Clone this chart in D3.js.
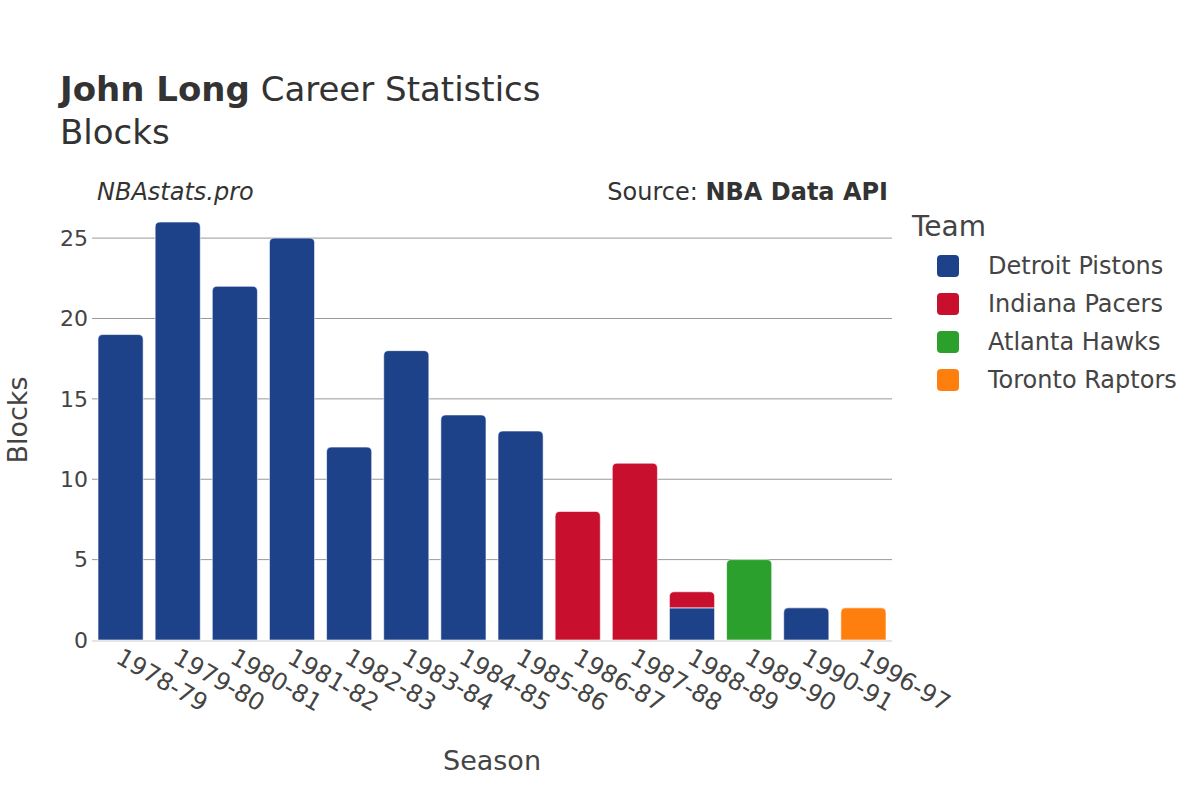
<!DOCTYPE html>
<html>
<head>
<meta charset="utf-8">
<script src="https://cdnjs.cloudflare.com/ajax/libs/d3/7.8.5/d3.min.js"></script>
<style>
  body { margin: 0; background: #fff; }
  svg { font-family: "DejaVu Sans", sans-serif; }
</style>
</head>
<body>
<div id="chart"></div>
<script>
// ----- data -----
var seasons = ["1978-79","1979-80","1980-81","1981-82","1982-83","1983-84","1984-85",
               "1985-86","1986-87","1987-88","1988-89","1989-90","1990-91","1996-97"];
var teams = ["Detroit Pistons","Indiana Pacers","Atlanta Hawks","Toronto Raptors"];
var teamColors = ["#1d428a","#c8102e","#2ca02c","#ff7f0e"];
// blocks per season, one array per team
var detroit  = [19,26,22,25,12,18,14,13,0,0,2,0,2,0];
var indiana  = [0,0,0,0,0,0,0,0,8,11,1,0,0,0];
var atlanta  = [0,0,0,0,0,0,0,0,0,0,0,5,0,0];
var toronto  = [0,0,0,0,0,0,0,0,0,0,0,0,0,2];
var yTicks = [0,5,10,15,20,25];

var W = 1200, H = 800;
var plotLeft = 92, plotRight = 892, plotTop = 200, plotBottom = 640;

var svg = d3.select("#chart").append("svg").attr("width", W).attr("height", H);

var x = d3.scaleBand().domain(seasons).range([plotLeft, plotRight]).paddingInner(0.21).paddingOuter(0.105);
var y = d3.scaleLinear().domain([0, 27.37]).range([plotBottom, plotTop]);
var color = d3.scaleOrdinal().domain(teams).range(teamColors);

// grid
svg.append("g").selectAll("line").data(yTicks.filter(function(d){return d>0;})).join("line")
  .attr("x1", plotLeft).attr("x2", plotRight)
  .attr("y1", function(d){return y(d);}).attr("y2", function(d){return y(d);})
  .attr("stroke", "#999").attr("stroke-width", 1);

// stack
var rows = seasons.map(function(s, i){
  return {season: s, "Detroit Pistons": detroit[i], "Indiana Pacers": indiana[i],
          "Atlanta Hawks": atlanta[i], "Toronto Raptors": toronto[i]};
});
var series = d3.stack().keys(teams)(rows);

function barPath(x0, w, y0, y1, r) {
  r = Math.min(r, (y0 - y1), w / 2);
  return "M" + x0 + "," + y0 +
    "V" + (y1 + r) + "Q" + x0 + "," + y1 + " " + (x0 + r) + "," + y1 +
    "H" + (x0 + w - r) + "Q" + (x0 + w) + "," + y1 + " " + (x0 + w) + "," + (y1 + r) +
    "V" + y0 + "Z";
}

series.forEach(function(s) {
  svg.append("g").selectAll("path").data(s.filter(function(d){return d[1] > d[0];})).join("path")
    .attr("d", function(d){
      // round only the top segment of each column
      var i = seasons.indexOf(d.data.season);
      var total = detroit[i] + indiana[i] + atlanta[i] + toronto[i];
      var r = d[1] === total ? 5 : 0;
      return barPath(x(d.data.season), x.bandwidth(), y(d[0]), y(d[1]), r);
    })
    .attr("fill", color(s.key))
    .attr("stroke", "#fff").attr("stroke-width", 0.6);
});

// zero line
svg.append("line").attr("x1", plotLeft).attr("x2", plotRight)
  .attr("y1", y(0) + 1).attr("y2", y(0) + 1)
  .attr("stroke", "#e5e5e5").attr("stroke-width", 2);

// y axis labels
svg.append("g").selectAll("text").data(yTicks).join("text")
  .attr("x", plotLeft - 4).attr("y", function(d){return y(d);})
  .attr("dy", "0.35em").attr("text-anchor", "end")
  .attr("font-size", 22).attr("fill", "#444").text(function(d){return d;});

// x axis labels
svg.append("g").selectAll("text").data(seasons).join("text")
  .attr("transform", function(d){
    return "translate(" + (x(d) + x.bandwidth()/2 - 6) + "," + (plotBottom + 22) + ") rotate(30)";
  })
  .attr("font-size", 24).attr("fill", "#444").text(function(d){return d;});

// axis titles
svg.append("text").attr("x", (plotLeft + plotRight)/2).attr("y", 770).attr("text-anchor", "middle")
  .attr("font-size", 27).attr("fill", "#444").text("Season");
svg.append("text").attr("transform", "translate(18," + (plotTop + plotBottom)/2 + ") rotate(-90)")
  .attr("text-anchor", "middle").attr("dy", "0.35em")
  .attr("font-size", 27).attr("fill", "#444").text("Blocks");

// title
var t = svg.append("text").attr("x", 60).attr("y", 101).attr("font-size", 34).attr("fill", "#333");
t.append("tspan").attr("font-weight", "bold").text("John Long");
t.append("tspan").text(" Career Statistics");
svg.append("text").attr("x", 60).attr("y", 144).attr("font-size", 34).attr("fill", "#333").text("Blocks");

svg.append("text").attr("x", 97).attr("y", 200).attr("font-size", 24).attr("font-style", "italic")
  .attr("fill", "#333").text("NBAstats.pro");
var src = svg.append("text").attr("x", 888).attr("y", 200).attr("text-anchor", "end")
  .attr("font-size", 24).attr("fill", "#333");
src.append("tspan").text("Source: ");
src.append("tspan").attr("font-weight", "bold").text("NBA Data API");

// legend
svg.append("text").attr("x", 912).attr("y", 236).attr("font-size", 28).attr("fill", "#444").text("Team");
var lg = svg.append("g").selectAll("g").data(teams).join("g")
  .attr("transform", function(d, i){ return "translate(937," + (266 + i * 38) + ")"; });
lg.append("rect").attr("x", 0).attr("y", -11).attr("width", 22).attr("height", 22).attr("rx", 4)
  .attr("fill", function(d){return color(d);});
lg.append("text").attr("x", 51).attr("dy", "0.35em").attr("font-size", 24).attr("fill", "#444")
  .text(function(d){return d;});
</script>
</body>
</html>
